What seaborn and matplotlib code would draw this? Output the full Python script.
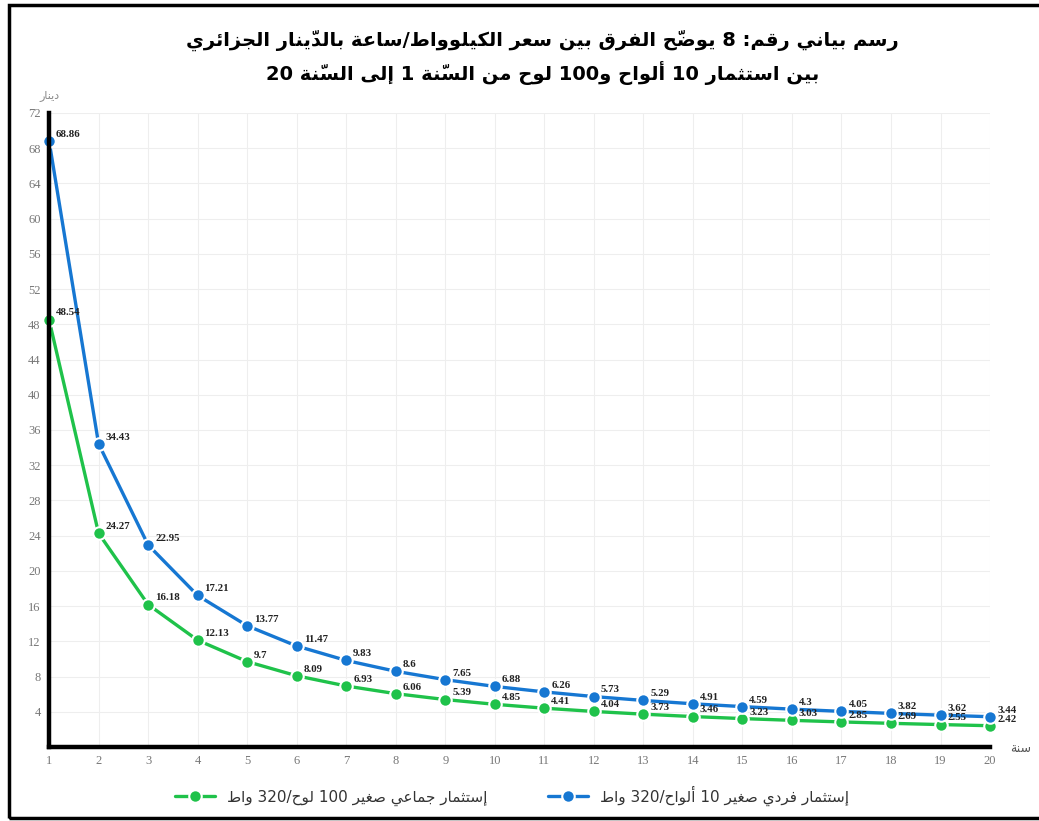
import re

import matplotlib.pyplot as plt
import pandas as pd
import seaborn as sns
from matplotlib.patches import Rectangle

# data
years = list(range(1, 21))
cost_10_panels = [68.86, 34.43, 22.95, 17.21, 13.77, 11.47, 9.83, 8.6, 7.65, 6.88,
                  6.26, 5.73, 5.29, 4.91, 4.59, 4.3, 4.05, 3.82, 3.62, 3.44]
cost_100_panels = [48.54, 24.27, 16.18, 12.13, 9.7, 8.09, 6.93, 6.06, 5.39, 4.85,
                   4.41, 4.04, 3.73, 3.46, 3.23, 3.03, 2.85, 2.69, 2.55, 2.42]
y_ticks = list(range(4, 73, 4))

title_1 = 'رسم بياني رقم: 8 يوضّح الفرق بين سعر الكيلوواط/ساعة بالدّينار الجزائري'
title_2 = 'بين استثمار 10 ألواح و100 لوح من السّنة 1 إلى السّنة 20'
label_10 = 'إستثمار فردي صغير 10 ألواح/320 واط'
label_100 = 'إستثمار جماعي صغير 100 لوح/320 واط'
y_name = 'دينار'
x_name = 'سنة'

# matplotlib has no arabic shaping, so do joining forms + rtl order by hand
DUAL = dict(zip('ئبتثجحخسشصضطظعغفقكلمنهي',
                [0xFE89, 0xFE8F, 0xFE95, 0xFE99, 0xFE9D, 0xFEA1, 0xFEA5, 0xFEB1,
                 0xFEB5, 0xFEB9, 0xFEBD, 0xFEC1, 0xFEC5, 0xFEC9, 0xFECD, 0xFED1,
                 0xFED5, 0xFED9, 0xFEDD, 0xFEE1, 0xFEE5, 0xFEE9, 0xFEF1]))
RIGHT = dict(zip('آأؤإاةدذرزوى',
                 [0xFE81, 0xFE83, 0xFE85, 0xFE87, 0xFE8D, 0xFE93, 0xFEA9, 0xFEAB,
                  0xFEAD, 0xFEAF, 0xFEED, 0xFEEF]))
LAM_ALEF = {'ا': 0xFEFB, 'أ': 0xFEF7, 'إ': 0xFEF9, 'آ': 0xFEF5}
MARKS = '\u064B\u064C\u064D\u064E\u064F\u0650\u0651\u0652'


def neighbour(text, i, step):
    i += step
    while 0 <= i < len(text) and text[i] in MARKS:
        i += step
    return text[i] if 0 <= i < len(text) else ''


def ar(text):
    out = []
    skip = False
    for i, c in enumerate(text):
        if skip:
            skip = False
            continue
        if c not in DUAL and c not in RIGHT:
            out.append(c)
            continue
        prev = neighbour(text, i, -1)
        nxt = neighbour(text, i, 1)
        joins_prev = prev in DUAL
        if c == 'ل' and nxt in LAM_ALEF:
            out.append(chr(LAM_ALEF[nxt] + (1 if joins_prev else 0)))
            skip = True
            continue
        joins_next = c in DUAL and (nxt in DUAL or nxt in RIGHT)
        base = DUAL.get(c, RIGHT.get(c))
        if joins_prev and joins_next:
            k = 3
        elif joins_next:
            k = 2
        elif joins_prev:
            k = 1
        else:
            k = 0
        out.append(chr(base + k))
    tokens = re.findall(r'[0-9A-Za-z.]+|.[\u064B-\u0652]*', ''.join(out))
    # mark goes in front of its letter so it lands over it
    tokens = [t[1:] + t[0] if len(t) > 1 and t[1] in MARKS else t for t in tokens]
    return ''.join(reversed(tokens))


df = pd.DataFrame({
    'year': years * 2,
    'cost': cost_100_panels + cost_10_panels,
    'series': [ar(label_100)] * len(years) + [ar(label_10)] * len(years),
})

sns.set_theme(style='white')
plt.rcParams['font.family'] = ['DejaVu Sans']

blue = '#1677d2'
green = '#1fc24a'

fig = plt.figure(figsize=(10.39, 8.21), dpi=100)
ax = fig.add_axes([0.0472, 0.0901, 0.9057, 0.7723])

sns.lineplot(data=df, x='year', y='cost', hue='series',
             palette=[green, blue], marker='o', markersize=9,
             markeredgecolor='white', markeredgewidth=1.5, linewidth=2.4,
             ax=ax, clip_on=False, zorder=3)

for vals in (cost_10_panels, cost_100_panels):
    for x, v in zip(years, vals):
        ax.annotate(f'{v:g}', (x, v), xytext=(5, 1.5), textcoords='offset points',
                    fontsize=7.8, fontweight='bold', family='Liberation Serif',
                    color='#222222', ha='left', va='bottom', zorder=4)

ax.set_xlim(1, 20)
ax.set_ylim(0, 72)
ax.set_xticks(years)
ax.set_yticks(y_ticks)
ax.set_xlabel('')
ax.set_ylabel('')
ax.tick_params(length=0, labelsize=9, labelcolor='#777777', pad=6)
for lab in ax.get_xticklabels() + ax.get_yticklabels():
    lab.set_family('Liberation Serif')
ax.grid(True, color='#eeeeee', linewidth=0.8)
for side in ('top', 'right'):
    ax.spines[side].set_visible(False)
for side in ('left', 'bottom'):
    ax.spines[side].set_color('black')
    ax.spines[side].set_linewidth(3.2)
    ax.spines[side].set_zorder(5)

ax.text(0, 1.028, ar(y_name), transform=ax.transAxes, ha='center', va='center',
        fontsize=8, color='#888888')
ax.text(1.032, -0.002, ar(x_name), transform=ax.transAxes, ha='center', va='center',
        fontsize=9, color='#555555')

handles, labels = ax.get_legend_handles_labels()
ax.legend(handles, labels, loc='center', bbox_to_anchor=(0.493, 0.031),
          bbox_transform=fig.transFigure, ncol=2, frameon=False, fontsize=11,
          handlelength=2.6, columnspacing=4, labelcolor='#333333')

fig.text(0.522, 0.951, ar(title_1), ha='center', va='center', fontsize=14,
         fontweight='bold', color='black')
fig.text(0.522, 0.911, ar(title_2), ha='center', va='center', fontsize=14,
         fontweight='bold', color='black')

fig.patches.append(Rectangle((0.009, 0.004), 1.1, 0.99, transform=fig.transFigure,
                             fill=False, edgecolor='black', linewidth=2.5))

fig.savefig('out.png', dpi=100)
